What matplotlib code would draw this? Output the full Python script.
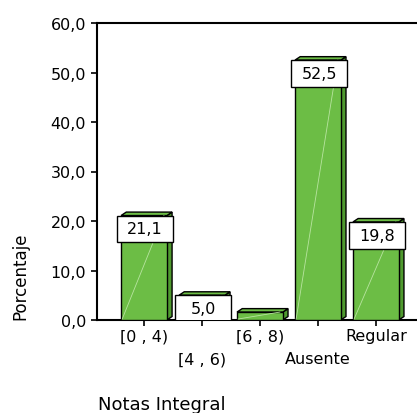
import matplotlib.pyplot as plt
from matplotlib.patches import Rectangle, Polygon
from matplotlib.transforms import blended_transform_factory
import numpy as np

categories = ['[0 , 4)', '[4 , 6)', '[6 , 8)', 'Ausente', 'Regular']
porcentaje = [21.1, 5.0, 1.6, 52.5, 19.8]
etiquetas = ['21,1', '5,0', None, '52,5', '19,8']
yticks = [0, 10, 20, 30, 40, 50, 60]

verde = '#6cbd45'
verde_osc = '#4f9a2f'

fig = plt.figure(figsize=(4.17, 4.14), dpi=100)
ax = fig.add_axes([97/417, 1 - 321/414, 1 - 97/417, (321 - 24)/414])

idx = np.arange(len(categories))
w = 0.79
dx, dy = 0.09, 0.7   # depth of the 3d side

for i, v in zip(idx, porcentaje):
    x0, x1 = i - w/2, i + w/2
    # side and top faces
    ax.add_patch(Polygon([(x1, 0), (x1 + dx, dy), (x1 + dx, v + dy), (x1, v)],
                         facecolor=verde_osc, edgecolor='black', lw=1.0, zorder=2))
    ax.add_patch(Polygon([(x0, v), (x0 + dx, v + dy), (x1 + dx, v + dy), (x1, v)],
                         facecolor=verde, edgecolor='black', lw=1.0, zorder=2))
    ax.bar(i, v, width=w, color=verde, edgecolor='black', lw=1.0, zorder=3)
    ax.plot([x0 + 0.02, x1 - 0.05], [0.2, v], color='#b8e4a0', lw=0.6, zorder=4)

# value boxes
bh = 5.4
for i, v, t in zip(idx, porcentaje, etiquetas):
    if t is None:
        continue
    ax.add_patch(Rectangle((i - 0.465, v - bh), 0.965, bh, facecolor='white',
                           edgecolor='black', lw=1.0, zorder=5))
    ax.text(i + 0.02, v - bh/2, t, ha='center', va='center', fontsize=11.5,
            zorder=6)

ax.set_xlim(-0.81, 4.71)
ax.set_ylim(0, 60)
ax.set_yticks(yticks)
ax.set_yticklabels([f'{t:.1f}'.replace('.', ',') for t in yticks], fontsize=11.5)
ax.set_xticks(idx)
ax.set_xticklabels([])
ax.tick_params(axis='both', direction='out', length=4, width=1.2, pad=4)

# staggered category labels
trans = blended_transform_factory(ax.transData, ax.transAxes)
for i, c in zip(idx, categories):
    off = -16 if i % 2 == 0 else -39
    ax.annotate(c, xy=(i, 0), xycoords=trans, xytext=(0, off),
                textcoords='offset pixels', ha='center', va='center',
                fontsize=11.5)

ax.spines['right'].set_visible(False)
for s in ['left', 'bottom', 'top']:
    ax.spines[s].set_linewidth(1.5)

fig.text(20/417, 1 - 276/414, 'Porcentaje', rotation=90, ha='center',
         va='center', fontsize=12)
fig.text(98/417, 1 - 405/414, 'Notas Integral', ha='left', va='center',
         fontsize=13)

fig.savefig('out.png', dpi=100)
